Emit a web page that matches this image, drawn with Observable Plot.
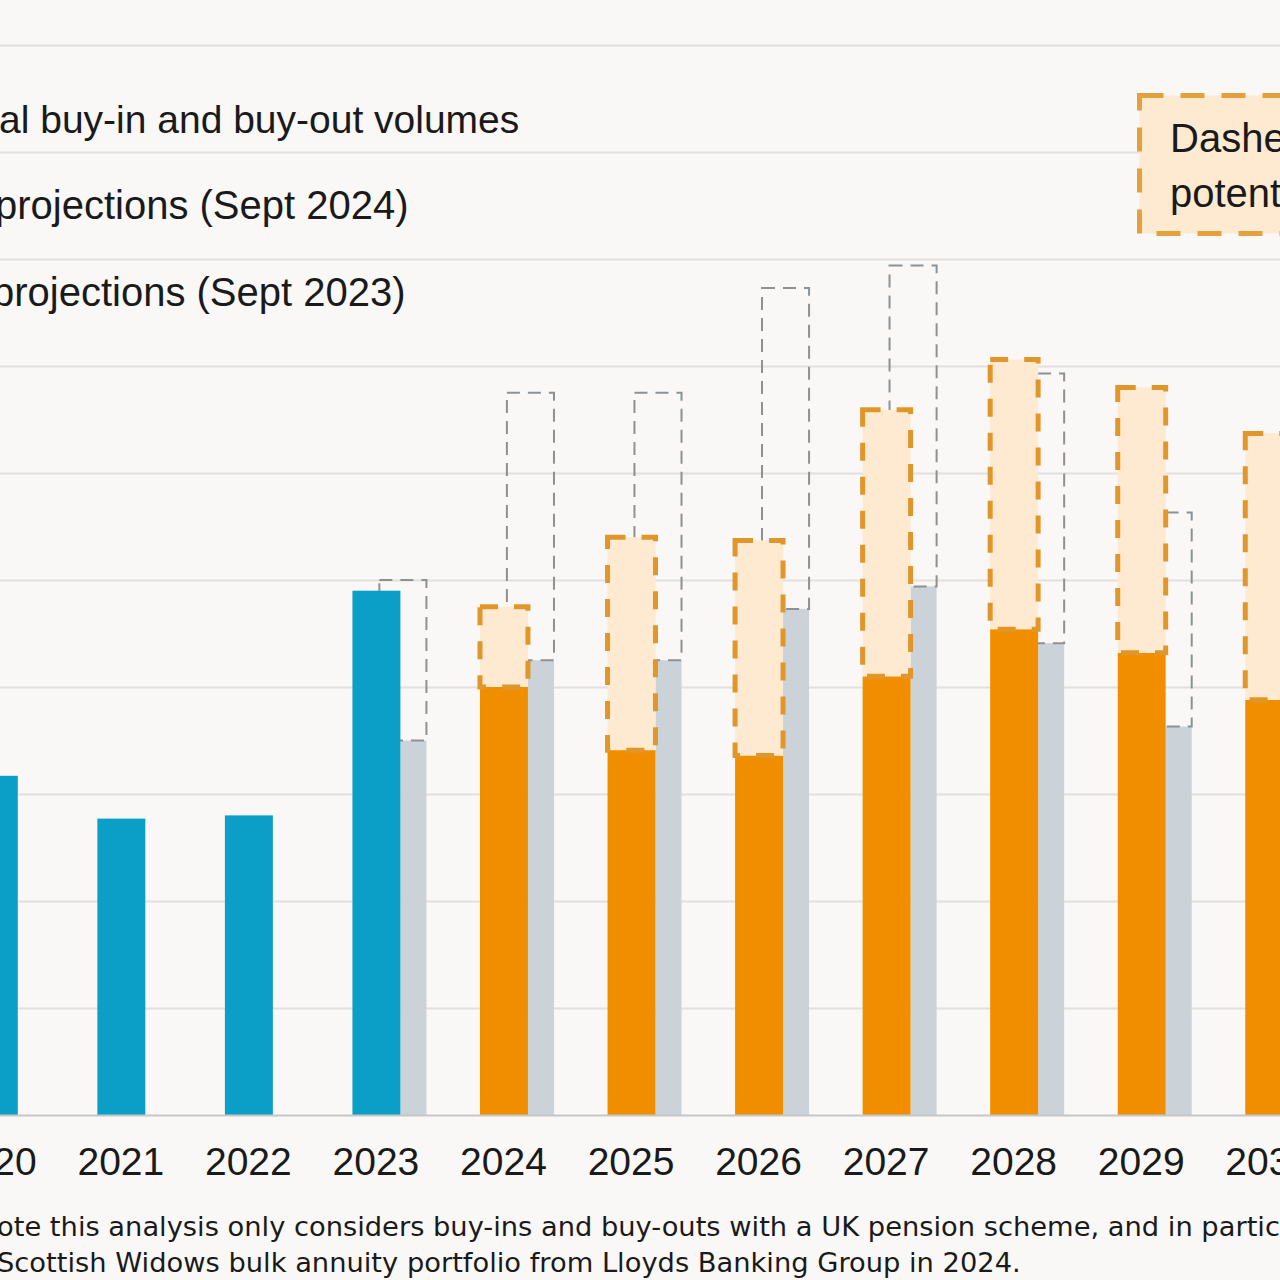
<!DOCTYPE html>
<html>
<head>
<meta charset="utf-8">
<script src="https://cdn.jsdelivr.net/npm/d3@7"></script>
<script src="https://cdn.jsdelivr.net/npm/@observablehq/plot@0.6"></script>
<style>
  html, body { margin: 0; padding: 0; overflow: hidden; background: #f9f8f6; }
  #stage { position: relative; width: 1280px; height: 1280px; overflow: hidden; background: #f9f8f6; }
  #chart { position: absolute; left: -71px; top: 0; width: 1403px; }
  #chart svg { max-width: none !important; }
  .legend-item {
    position: absolute; white-space: nowrap;
    font-family: "Liberation Sans", Arial, sans-serif; line-height: 39px; color: #1a1a1a;
  }
  #note { position: absolute; left: 1137px; top: 93px; }
  #footer {
    position: absolute; left: -3px; top: 1209px; white-space: nowrap;
    font-family: "DejaVu Sans", Verdana, sans-serif; font-size: 27.3px; line-height: 36px; color: #1a1a1a;
  }
</style>
</head>
<body>
<div id="stage">
  <div id="chart"></div>
  <div id="legend"></div>
  <svg id="note" width="200" height="150"></svg>
  <div id="footer"></div>
</div>
<script>
// Year categories on the x axis
const years = [2020, 2021, 2022, 2023, 2024, 2025, 2026, 2027, 2028, 2029, 2030];

// Actual buy-in and buy-out volumes (£bn)
const actualYears = [2020, 2021, 2022, 2023];
const actualVolumes = [31.7, 27.7, 28.0, 49.0];

// Projections (Sept 2024): solid base and dashed upper range (£bn)
const proj2024Years = [2024, 2025, 2026, 2027, 2028, 2029, 2030];
const proj2024Low = [40.0, 34.1, 33.6, 41.0, 45.4, 43.2, 38.8];
const proj2024High = [47.5, 54.0, 53.7, 65.9, 70.6, 68.0, 63.7];

// Projections (Sept 2023): solid base and dashed upper range (£bn)
const proj2023Years = [2023, 2024, 2025, 2026, 2027, 2028, 2029];
const proj2023Low = [35.0, 42.5, 42.5, 47.3, 49.4, 44.1, 36.3];
const proj2023High = [50.0, 67.5, 67.5, 77.3, 79.4, 69.3, 56.3];

// Value gridlines
const gridValues = [10, 20, 30, 40, 50, 60, 70, 80, 90, 100];

// Legend, note and footnote texts
const legendLabels = [
  "al buy-in and buy-out volumes",
  "projections (Sept 2024)",
  "projections (Sept 2023)"
];
const noteLines = ["Dashed", "potential"];
const footerLines = [
  "ote this analysis only considers buy-ins and buy-outs with a UK pension scheme, and in particular",
  "Scottish Widows bulk annuity portfolio from Lloyds Banking Group in 2024."
];

// Colours
const BLUE = "#0b9ec6";
const ORANGE = "#f18e00";
const PEACH = "#fdead0";
const ORANGE_DASH = "#e1962c";
const GREY = "#cbd3d8";
const GREY_DASH = "#8c9196";

const actual = actualYears.map((year, i) => ({year, value: actualVolumes[i]}));
const proj24 = proj2024Years.map((year, i) => ({year, low: proj2024Low[i], high: proj2024High[i]}));
const proj23 = proj2023Years.map((year, i) => ({year, low: proj2023Low[i], high: proj2023High[i]}));

// Bar slots within each year, in year units
const MAIN_L = -0.18, MAIN_R = 0.196, SIDE_R = 0.40, SIDE_OUTLINE_L = 0.031;

const chart = Plot.plot({
  width: 1403,
  height: 1195,
  marginTop: 45,
  marginBottom: 80,
  marginLeft: 0,
  marginRight: 0,
  style: {background: "transparent", fontFamily: "'Liberation Sans', Arial, sans-serif", color: "#1a1a1a"},
  x: {domain: [2019.5, 2030.5]},
  y: {domain: [0, 100], axis: null},
  marks: [
    Plot.ruleY(gridValues, {stroke: "#e2e0dd", strokeWidth: 2}),
    // Sept 2023 projections: solid base
    Plot.rect(proj23, {x1: d => d.year + MAIN_R, x2: d => d.year + SIDE_R, y1: 0, y2: "low", fill: GREY}),
    // Sept 2023 projections: dashed upper range
    Plot.rect(proj23, {x1: d => d.year + SIDE_OUTLINE_L, x2: d => d.year + SIDE_R, y1: "low", y2: "high",
      fill: "none", stroke: GREY_DASH, strokeWidth: 2, strokeDasharray: "13 8"}),
    // Actual volumes
    Plot.rect(actual, {x1: d => d.year + MAIN_L, x2: d => d.year + MAIN_R, y1: 0, y2: "value", fill: BLUE}),
    // Sept 2024 projections: solid base
    Plot.rect(proj24, {x1: d => d.year + MAIN_L, x2: d => d.year + MAIN_R, y1: 0, y2: "low", fill: ORANGE}),
    // Sept 2024 projections: dashed upper range
    Plot.rect(proj24, {x1: d => d.year + MAIN_L, x2: d => d.year + MAIN_R, y1: "low", y2: "high",
      fill: PEACH, stroke: ORANGE_DASH, strokeWidth: 5, strokeDasharray: "18 16"}),
    Plot.ruleY([0], {stroke: "#c6c6c6", strokeWidth: 2}),
    Plot.axisX(years, {tickFormat: d => String(d), tickSize: 0, tickPadding: 32, fontSize: 39, fill: "#1a1a1a"})
  ]
});
document.getElementById("chart").append(chart);

// Legend texts
const legend = d3.select("#legend");
const legendTops = [100, 186, 273];
const legendLefts = [-1, -5, -8];
const legendSizes = [39, 40, 40];
legendLabels.forEach((t, i) => {
  legend.append("div").attr("class", "legend-item")
    .style("left", legendLefts[i] + "px").style("top", legendTops[i] + "px")
    .style("font-size", legendSizes[i] + "px").text(t);
});

// Note box with dashed border
const note = d3.select("#note");
note.append("rect").attr("x", 2.5).attr("y", 2.5).attr("width", 300).attr("height", 138)
  .attr("fill", PEACH).attr("stroke", "#e3a13c").attr("stroke-width", 5).attr("stroke-dasharray", "24 17");
note.selectAll("text").data(noteLines).join("text")
  .attr("x", 33).attr("y", (d, i) => 59 + i * 55)
  .attr("font-family", "'Liberation Sans', Arial, sans-serif").attr("font-size", 40).attr("fill", "#1a1a1a")
  .text(d => d);

// Footnote
const footer = d3.select("#footer");
footerLines.forEach(t => footer.append("div").text(t));
</script>
</body>
</html>
